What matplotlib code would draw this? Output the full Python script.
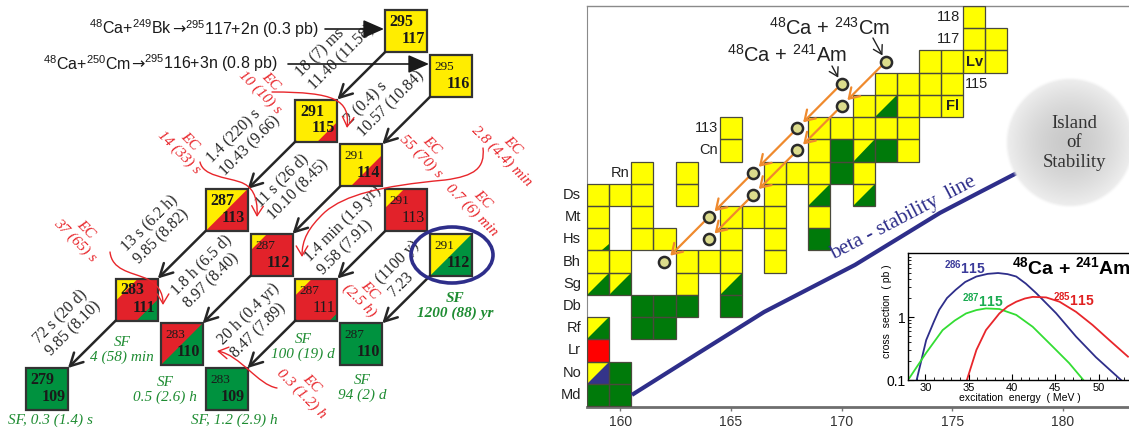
"""Decay chains of element 117 and the superheavy corner of the nuclide chart."""
import matplotlib
matplotlib.use('agg')
import matplotlib.pyplot as plt
import numpy as np
from matplotlib.patches import Rectangle, Polygon, Ellipse, FancyArrowPatch
from matplotlib.path import Path
from matplotlib.ticker import MultipleLocator, NullFormatter, FixedLocator

plt.rcParams['mathtext.fontset'] = 'custom'
plt.rcParams['mathtext.rm'] = 'Liberation Sans'
plt.rcParams['mathtext.it'] = 'Liberation Sans:italic'
plt.rcParams['mathtext.bf'] = 'Liberation Sans:bold'

SANS = ['Liberation Sans', 'DejaVu Sans']
SERIF = ['Liberation Serif', 'DejaVu Serif']

# ---------------- decay chains ----------------
chain_A = [295, 295, 291, 291, 291, 291, 287, 287, 287, 287, 283, 283, 283, 279]
chain_Z = [117, 116, 115, 114, 113, 112, 113, 112, 111, 110, 111, 110, 109, 109]
chain_base = ['Y', 'Y', 'Y', 'Y', 'R', 'G', 'R', 'R', 'R', 'G', 'R', 'G', 'G', 'G']
chain_ul = ['', '', '', '', 'Y', 'Y', 'Y', 'Y', 'Y', '', 'Y', 'R', '', '']
chain_ul_frac = [0, 0, 0, 0, 0.45, 1, 1, 0.4, 0.4, 0, 0.53, 1, 0, 0]
chain_lr = ['', '', 'R', 'R', '', '', '', '', 'G', '', 'G', '', '', '']
chain_lr_frac = [0, 0, 0.47, 0.75, 0, 0, 0, 0, 0.18, 0, 0.5, 0, 0, 0]
mass_bold = [1, 0, 1, 0, 0, 0, 1, 0, 0, 0, 1, 0, 0, 1]
z_bold = [1, 1, 1, 1, 0, 1, 1, 1, 0, 1, 1, 1, 1, 1]

alpha_A = [295, 295, 291, 291, 291, 291, 287, 287, 287, 283]
alpha_Z = [117, 116, 115, 114, 113, 112, 113, 112, 111, 111]
alpha_text = ['18 (7) ms\n11.40 (11.58)', '2 (0.4) s\n10.57 (10.84)',
              '1.4 (220) s\n10.43 (9.66)', '11 s (26 d)\n10.10 (8.45)',
              '1.4 min (1.9 yr)\n9.58 (7.91)', '(1100 y)\n7.23',
              '13 s (6.2 h)\n9.85 (8.82)', '1.8 h (6.5 d)\n8.97 (8.40)',
              '20 h (0.4 yr)\n8.47 (7.89)', '72 s (20 d)\n9.85 (8.10)']

ec_text = ['EC\n10 (10) s', 'EC\n14 (33) s', 'EC\n55 (70) s', 'EC\n2.8 (4.4) min',
           'EC\n0.7 (6) min', 'EC\n37 (65) s', 'EC\n(2.5 h)', 'EC\n0.3 (1.2) h']
sf_text = ['SF\n4 (58) min', 'SF\n0.5 (2.6) h', 'SF, 0.3 (1.4) s', 'SF, 1.2 (2.9) h',
           'SF\n100 (19) d', 'SF\n94 (2) d', 'SF\n1200 (88) yr']

# production reactions, split so the arrow comes from DejaVu
reactions = [[r'$^{48}$Ca+$^{249}$Bk', '→', r'$^{295}$117+2n (0.3 pb)'],
             [r'$^{48}$Ca+$^{250}$Cm', '→', r'$^{295}$116+3n (0.8 pb)']]

# ---------------- nuclide chart ----------------
yellow_cells = [(176, 118), (176, 117), (177, 117),
                (174, 116), (175, 116), (176, 116), (177, 116),
                (172, 115), (173, 115), (174, 115), (175, 115),
                (171, 114), (173, 114), (174, 114), (175, 114),
                (165, 113), (169, 113), (170, 113), (171, 113), (172, 113), (173, 113),
                (165, 112), (169, 112), (173, 112),
                (161, 111), (163, 111), (167, 111), (168, 111), (169, 111), (171, 111),
                (159, 110), (160, 110), (161, 110), (163, 110), (167, 110),
                (159, 109), (161, 109), (165, 109), (166, 109), (167, 109), (169, 109),
                (161, 108), (162, 108), (165, 108), (167, 108),
                (159, 107), (160, 107), (163, 107), (164, 107), (165, 107), (167, 107),
                (163, 106)]
green_cells = [(170, 112), (172, 112), (170, 111), (169, 108),
               (161, 105), (162, 105), (163, 105), (165, 105),
               (161, 104), (162, 104), (160, 102), (159, 101), (160, 101)]
yellow_green_cells = [(172, 114), (171, 112), (169, 110), (171, 110),
                      (159, 106), (160, 106), (165, 106), (159, 104)]
yellow_corner_cells = [(159, 108)]
yellow_blue_cells = [(159, 102)]
red_cells = [(159, 103)]

element_names = ['Md', 'No', 'Lr', 'Rf', 'Db', 'Sg', 'Bh', 'Hs', 'Mt', 'Ds']
element_Z = [101, 102, 103, 104, 105, 106, 107, 108, 109, 110]

am_N = [170, 168, 166, 164, 162]
am_Z = [115, 113, 111, 109, 107]
cm_N = [172, 170, 168, 166, 164]
cm_Z = [116, 114, 112, 110, 108]

beta_N = [160.53, 163.61, 166.50, 170.61, 174.45, 176.26, 177.93]
beta_Z = [101.00, 102.93, 104.73, 106.85, 109.19, 110.13, 110.99]

# ---------------- excitation functions ----------------
e286 = [29.0, 30.1, 31.0, 31.6, 32.5, 33.5, 34.6, 35.9, 37.2, 38.4, 39.5, 40.5, 41.6,
        42.8, 45.1, 47.4, 49.7, 52.6]
s286 = [0.1, 0.43, 0.85, 1.3, 2.0, 2.7, 3.6, 4.4, 4.85, 5.0, 4.8, 4.4, 3.4,
        2.4, 1.15, 0.49, 0.23, 0.1]
e287 = [28.15, 30.1, 32.0, 33.4, 34.7, 35.9, 37.0, 38.55, 40.5, 42.4, 44.7, 46.6, 48.25]
s287 = [0.107, 0.27, 0.62, 0.88, 1.14, 1.29, 1.37, 1.34, 1.08, 0.70, 0.34, 0.186, 0.1]
e285 = [34.8, 35.9, 37.0, 38.55, 39.5, 40.5, 41.5, 42.4, 43.95, 45.5, 47.4, 49.3, 51.25, 53.4]
s285 = [0.1, 0.30, 0.62, 1.14, 1.47, 1.75, 1.97, 2.09, 2.05, 1.75, 1.21, 0.75, 0.43, 0.235]

CHAIN_COL = {'Y': '#ffed00', 'R': '#e2222a', 'G': '#00923f'}
CELL_COL = {'Y': '#ffff00', 'G': '#007a0a', 'R': '#ff0000', 'B': '#34348a'}
RED = '#e8262b'
SFGREEN = '#1e8c32'
NAVY = '#2e2e8a'

fig = plt.figure(figsize=(11.29, 4.30), dpi=100)

# left panel works in pixel units
ax0 = fig.add_axes([0, 0, 1, 1])
ax0.set_xlim(0, 1129)
ax0.set_ylim(430, 0)
ax0.set_axis_off()
renderer = fig.canvas.get_renderer()

BOX = 42.0


def box_origin(A, Z):
    N = A - Z
    return 26 + 44.9 * (N - 170), 10 + 44.75 * (117 - Z)


for i in range(len(chain_A)):
    x, y = box_origin(chain_A[i], chain_Z[i])
    ax0.add_patch(Rectangle((x, y), BOX, BOX, fc=CHAIN_COL[chain_base[i]], ec='none', zorder=2))
    if chain_ul[i]:
        f = chain_ul_frac[i] * BOX
        ax0.add_patch(Polygon([(x, y), (x + f, y), (x, y + f)],
                              fc=CHAIN_COL[chain_ul[i]], ec='none', zorder=2))
    if chain_lr[i]:
        f = chain_lr_frac[i] * BOX
        ax0.add_patch(Polygon([(x + BOX, y + BOX), (x + BOX - f, y + BOX), (x + BOX, y + BOX - f)],
                              fc=CHAIN_COL[chain_lr[i]], ec='none', zorder=2))
    ax0.add_patch(Rectangle((x, y), BOX, BOX, fill=False, ec='#333333', lw=1.6, zorder=3))
    ax0.text(x + 4.5, y + 12, str(chain_A[i]), family=SERIF,
             fontsize=11.5 if mass_bold[i] else 9.5,
             fontweight='bold' if mass_bold[i] else 'normal',
             ha='left', va='center', color='#1a1a1a', zorder=4)
    ax0.text(x + BOX - 2.5, y + 29, str(chain_Z[i]), family=SERIF,
             fontsize=11.5, fontweight='bold' if z_bold[i] else 'normal',
             ha='right', va='center', color='#1a1a1a', zorder=4)

# alpha decays: bottom-left corner of parent to top-right corner of daughter
for A, Z in zip(alpha_A, alpha_Z):
    x, y = box_origin(A, Z)
    xd, yd = box_origin(A - 4, Z - 2)
    ax0.add_patch(FancyArrowPatch((x, y + BOX), (xd + BOX, yd),
                                  arrowstyle='->,head_length=0.6,head_width=0.32',
                                  mutation_scale=15, lw=1.8, color='#262626',
                                  shrinkA=0, shrinkB=0, zorder=5))

alpha_anchor = [(305, 81), (354, 128), (216, 167), (264, 211), (314, 266), (385, 288),
                (130, 255), (180, 299), (227, 349), (42, 347)]
for txt, (x, y) in zip(alpha_text, alpha_anchor):
    ax0.text(x, y, txt, rotation=45, rotation_mode='anchor', ha='left', va='center',
             multialignment='left', family=SERIF, fontsize=11.5, color='#262626',
             linespacing=1.15, zorder=4)

ec_center = [(265, 87), (184, 147), (426, 151), (507, 151), (477, 205), (80, 235),
             (364, 296), (306, 389)]
for txt, (x, y) in zip(ec_text, ec_center):
    ax0.text(x, y, txt, rotation=-45, rotation_mode='anchor', ha='center', va='center',
             multialignment='center', family=SERIF, style='italic', fontsize=11,
             color=RED, linespacing=1.1, zorder=4)

sf_center = [(122, 350), (165, 390), (50, 420), (234, 420), (303, 347), (362, 388), (455, 306)]
for k, (txt, (x, y)) in enumerate(zip(sf_text, sf_center)):
    ax0.text(x, y, txt, ha='center', va='center', multialignment='center', family=SERIF,
             style='italic', fontweight='bold' if k == len(sf_text) - 1 else 'normal',
             fontsize=11, color=SFGREEN, linespacing=1.1, zorder=4)

# EC branches drawn as curly arrows
ec_paths = [
    [(272, 92), (335, 92), (350, 100), (347, 128)],
    [(200, 162), (203, 176), (225, 177), (240, 182), (252, 186), (258, 196), (257, 217)],
    [(483, 148), (485, 168), (475, 176), (445, 180), (380, 186), (345, 195), (325, 212),
     (308, 228), (302, 240), (302, 257)],
    [(110, 252), (112, 270), (130, 272), (145, 278), (158, 284), (163, 292), (163, 305)],
    [(277, 388), (258, 385), (240, 355), (217, 351)],
]
for pts in ec_paths:
    codes = [Path.MOVETO] + [Path.CURVE4] * (len(pts) - 1)
    ax0.add_patch(FancyArrowPatch(path=Path(pts, codes),
                                  arrowstyle='->,head_length=0.5,head_width=0.3',
                                  mutation_scale=14, color=RED, lw=1.0, zorder=5))

# production reactions, laid out piece by piece
for pieces, x, y in zip(reactions, [89, 43], [34.5, 69.5]):
    for s in pieces:
        fam = ['DejaVu Sans'] if s == '→' else SANS
        t = ax0.text(x, y, s, ha='left', va='baseline', family=fam, fontsize=11.5,
                     color='#1a1a1a')
        x += t.get_window_extent(renderer).width
for x0, x1, y in [(325, 384, 29), (288, 429, 64)]:
    ax0.add_patch(FancyArrowPatch((x0, y), (x1, y), arrowstyle='-|>,head_length=0.8,head_width=0.35',
                                  mutation_scale=16, lw=1.2, color='#1a1a1a',
                                  shrinkA=0, shrinkB=0, zorder=5))

ax0.add_patch(Ellipse((452, 255), 82, 56, fill=False, ec=NAVY, lw=2.6, zorder=6))

ax0.text(604, 57, 'protons', rotation=90, ha='center', va='center', family=SERIF,
         fontsize=15, color='#222222')

# ---------------- nuclide chart axes ----------------
ax = fig.add_axes([587 / 1129, 23 / 430, 542 / 1129, 401 / 430])


def cell(N, Z, base, lower=None, frac=1.0):
    ax.add_patch(Rectangle((N - .5, Z - .5), 1, 1, fc=CELL_COL[base], ec='none', zorder=2))
    if lower:
        ax.add_patch(Polygon([(N + .5 - frac, Z - .5), (N + .5, Z - .5), (N + .5, Z - .5 + frac)],
                             fc=CELL_COL[lower], ec='none', zorder=2))
    ax.add_patch(Rectangle((N - .5, Z - .5), 1, 1, fill=False, ec='#4a4a3c', lw=0.9, zorder=3))


for N, Z in yellow_cells:
    cell(N, Z, 'Y')
for N, Z in green_cells:
    cell(N, Z, 'G')
for N, Z in yellow_green_cells:
    cell(N, Z, 'Y', 'G')
for N, Z in yellow_corner_cells:
    cell(N, Z, 'Y', 'G', 0.3)
for N, Z in yellow_blue_cells:
    cell(N, Z, 'Y', 'B')
for N, Z in red_cells:
    cell(N, Z, 'R')

for name, Z in zip(element_names, element_Z):
    ax.text(158.23, Z, name, ha='right', va='center', family=SANS, fontsize=10.5,
            color='#222222', clip_on=False)
for txt, N, Z, ha in [('118', 175.35, 118, 'right'), ('117', 175.35, 117, 'right'),
                      ('115', 175.58, 115, 'left'), ('113', 164.42, 113, 'right'),
                      ('Cn', 164.42, 112, 'right'), ('Rn', 160.4, 111, 'right')]:
    ax.text(N, Z, txt, ha=ha, va='center', family=SANS, fontsize=10.5, color='#222222')
ax.text(176, 116, 'Lv', ha='center', va='center', family=SANS, fontsize=10.5,
        fontweight='bold', color='#222222', zorder=4)
ax.text(175, 114, 'Fl', ha='center', va='center', family=SANS, fontsize=10.5,
        fontweight='bold', color='#222222', zorder=4)

# island of stability
cx, cy, rx, ry = 180.33, 112.34, 2.94, 2.93
gx, gy = np.meshgrid(np.linspace(-1, 1, 300), np.linspace(-1, 1, 300))
rr = np.hypot(gx, gy)
img = np.zeros((300, 300, 4))
g = 0.79 + 0.15 * np.clip(rr, 0, 1) ** 1.6
img[..., 0] = g
img[..., 1] = g
img[..., 2] = g
img[..., 3] = np.clip((1 - rr) / 0.05, 0, 1)
ax.imshow(img, extent=[cx - rx, cx + rx, cy - ry, cy + ry], aspect='auto',
          interpolation='bilinear', zorder=4)
ax.text(cx + 0.2, cy, 'Island\nof\nStability', ha='center', va='center', family=SERIF,
        fontsize=13.5, color='#333333', linespacing=1.2, zorder=5)

ax.plot(beta_N, beta_Z, color=NAVY, lw=3, solid_capstyle='butt', zorder=3)
ax.text(172.78, 108.96, 'beta - stability  line', rotation=27.6, rotation_mode='anchor',
        ha='center', va='center', family=SERIF, fontsize=15, color=NAVY)

# alpha chains from the two reactions
for Ns, Zs in [(am_N, am_Z), (cm_N, cm_Z)]:
    for i in range(len(Ns) - 1):
        ax.add_patch(FancyArrowPatch((Ns[i], Zs[i]), (Ns[i + 1], Zs[i + 1]),
                                     arrowstyle='->,head_length=0.5,head_width=0.32',
                                     mutation_scale=14, color='#ef8a2e', lw=1.6,
                                     shrinkA=5, shrinkB=6, zorder=6))
    ax.plot(Ns, Zs, 'o', ls='none', ms=8, mfc='#dcdc8c', mec='#2a2a2a', mew=1.8, zorder=7)

ax.text(167.54, 116.30, r'$^{48}$Ca + $^{241}$Am', ha='center', va='center', family=SANS,
        fontsize=14.5, color='#222222')
ax.text(169.48, 117.51, r'$^{48}$Ca + $^{243}$Cm', ha='center', va='center', family=SANS,
        fontsize=14.5, color='#222222')
for (x0, y0), (x1, y1) in [((169.57, 115.80), (am_N[0], am_Z[0])),
                           ((171.42, 117.06), (cm_N[0], cm_Z[0]))]:
    ax.add_patch(FancyArrowPatch((x0, y0), (x1, y1), arrowstyle='->,head_length=0.5,head_width=0.3',
                                 mutation_scale=12, color='#222222', lw=1.0,
                                 shrinkA=0, shrinkB=5, zorder=6))

ax.set_xlim(158.5, 182.99)
ax.set_ylim(100.455, 118.5)
ax.set_xticks([160, 165, 170, 175, 180])
ax.set_yticks([])
ax.tick_params(axis='x', length=3, width=1, color='#777777', pad=3, labelsize=10)
for lab in ax.get_xticklabels():
    lab.set_family(SANS)
    lab.set_color('#333333')
ax.spines['right'].set_visible(False)
ax.spines['left'].set_color('#8a8a8a')
ax.spines['left'].set_linewidth(0.8)
ax.spines['top'].set_color('#8a8a8a')
ax.spines['top'].set_linewidth(1.0)
ax.spines['bottom'].set_color('#6e6e6e')
ax.spines['bottom'].set_linewidth(2.0)
ax0.text(811, 389, 'neutrons', ha='center', va='center', family=SERIF, fontsize=15,
         color='#222222', zorder=10)

# ---------------- inset: excitation functions ----------------
axi = fig.add_axes([908 / 1129, 50 / 430, 221 / 1129, 127 / 430])
axi.set_yscale('log')
axi.plot(e286, s286, color='#2e2e8a', lw=1.3)
axi.plot(e287, s287, color='#33dd33', lw=1.3)
axi.plot(e285, s285, color='#e8262b', lw=1.3)
axi.set_xlim(28, 53.52)
axi.set_ylim(0.1, 10.4)
axi.set_xticks([30, 35, 40, 45, 50])
axi.xaxis.set_minor_locator(MultipleLocator(1))
axi.yaxis.set_major_locator(FixedLocator([0.1, 1]))
axi.set_yticklabels(['0.1', '1'])
axi.yaxis.set_minor_formatter(NullFormatter())
axi.tick_params(axis='x', which='major', direction='in', length=4, labelsize=8, pad=2)
axi.tick_params(axis='x', which='minor', direction='in', length=2)
axi.tick_params(axis='y', which='major', direction='in', length=4, labelsize=10, pad=2)
axi.tick_params(axis='y', which='minor', direction='in', length=2)
for lab in axi.get_xticklabels() + axi.get_yticklabels():
    lab.set_family(SANS)
axi.spines['right'].set_visible(False)
for s in ['left', 'bottom', 'top']:
    axi.spines[s].set_linewidth(1.0)
axi.text(0.507, -0.142, 'excitation  energy  ( MeV )', transform=axi.transAxes,
         ha='center', va='center', family=SANS, fontsize=7.5)
axi.text(-0.095, 0.54, 'cross  section  ( pb )', transform=axi.transAxes, rotation=90,
         ha='center', va='center', family=SANS, fontsize=7.5)
axi.text(0.47, 0.89, r'$^{\mathbf{48}}$Ca + $^{\mathbf{241}}$Am', transform=axi.transAxes,
         ha='left', va='center', family=SANS, fontsize=14, fontweight='bold')
axi.text(34.6, 6.0, r'$^{\mathbf{286}}$115', ha='center', va='center', family=SANS,
         fontsize=10, fontweight='bold', color='#3a3a9a')
axi.text(36.6, 1.8, r'$^{\mathbf{287}}$115', ha='center', va='center', family=SANS,
         fontsize=10, fontweight='bold', color='#1aaa50')
axi.text(47.2, 1.86, r'$^{\mathbf{285}}$115', ha='center', va='center', family=SANS,
         fontsize=10, fontweight='bold', color='#e02020')

fig.savefig('out.png', dpi=100)
